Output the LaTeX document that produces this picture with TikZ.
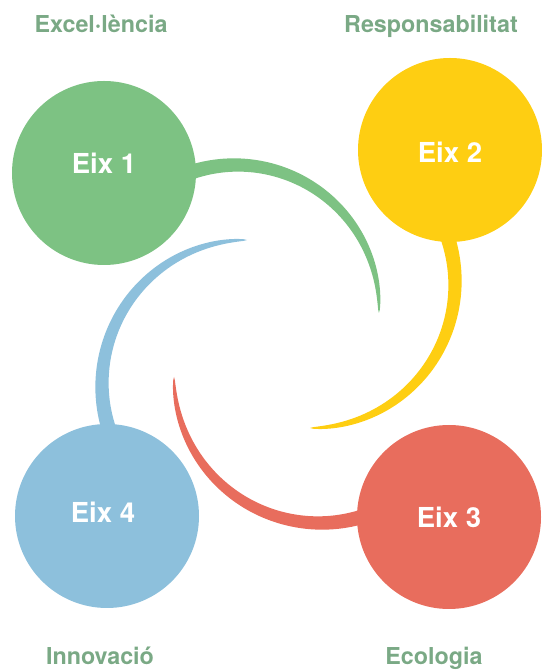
\documentclass[tikz,border=0pt]{standalone}
\usepackage{fontspec}
\setmainfont{TeX Gyre Heros}
\definecolor{eixgreen}{HTML}{7DC283}
\definecolor{eixyellow}{HTML}{FECE12}
\definecolor{eixred}{HTML}{E86D5D}
\definecolor{eixblue}{HTML}{8DC0DC}
\definecolor{labelgreen}{HTML}{7AA985}
\tikzset{
  ball/.style={circle,minimum size=184pt,inner sep=0pt},
  eixtext/.style={text=white,font=\bfseries\fontsize{27.5}{27.5}\selectfont},
  axislabel/.style={text=labelgreen,font=\bfseries\fontsize{23.3}{23.3}\selectfont,anchor=base}
}
\begin{document}
\begin{tikzpicture}[x=1pt,y=1pt]
    \useasboundingbox (0,0) rectangle (541,671);

    % tapered arcs, drawn below the circles
    \foreach \cx/\cy/\rr/\angA/\angB/\col in {236/363/143/116/-2/eixgreen,
        310/388/145/26/-90/eixyellow, 320/294/146/-65/-180/eixred,
        247/286/145/206/90/eixblue}{
      \fill[\col] plot[domain=\angA:\angB,samples=90,variable=\t]
          ({\cx+(\rr+7.2*sqrt(abs((\t-(\angB))/(\angA-10-(\angB)))))*cos(\t)},
           {\cy+(\rr+7.2*sqrt(abs((\t-(\angB))/(\angA-10-(\angB)))))*sin(\t)})
        -- plot[domain=\angB:\angA,samples=90,variable=\t]
          ({\cx+(\rr-7.2*sqrt(abs((\t-(\angB))/(\angA-10-(\angB)))))*cos(\t)},
           {\cy+(\rr-7.2*sqrt(abs((\t-(\angB))/(\angA-10-(\angB)))))*sin(\t)})
        -- cycle;
    }

    \node[ball,fill=eixgreen] (eix1) at (104,498) {};
    \node[ball,fill=eixyellow] (eix2) at (450,521) {};
    \node[ball,fill=eixred] (eix3) at (449,154) {};
    \node[ball,fill=eixblue] (eix4) at (107,155) {};

    \node[eixtext] (name1) at (104,508) {Eix 1};
    \node[eixtext] (name2) at (450,519) {Eix 2};
    \node[eixtext] (name3) at (449,154) {Eix 3};
    \node[eixtext] (name4) at (103,159) {Eix 4};

    \node[axislabel] (excel) at (101,638) {Excel·lència};
    \node[axislabel] (resp) at (431,638) {Responsabilitat};
    \node[axislabel] (innov) at (100,6) {Innovació};
    \node[axislabel] (ecol) at (434,6) {Ecologia};
\end{tikzpicture}
\end{document}
